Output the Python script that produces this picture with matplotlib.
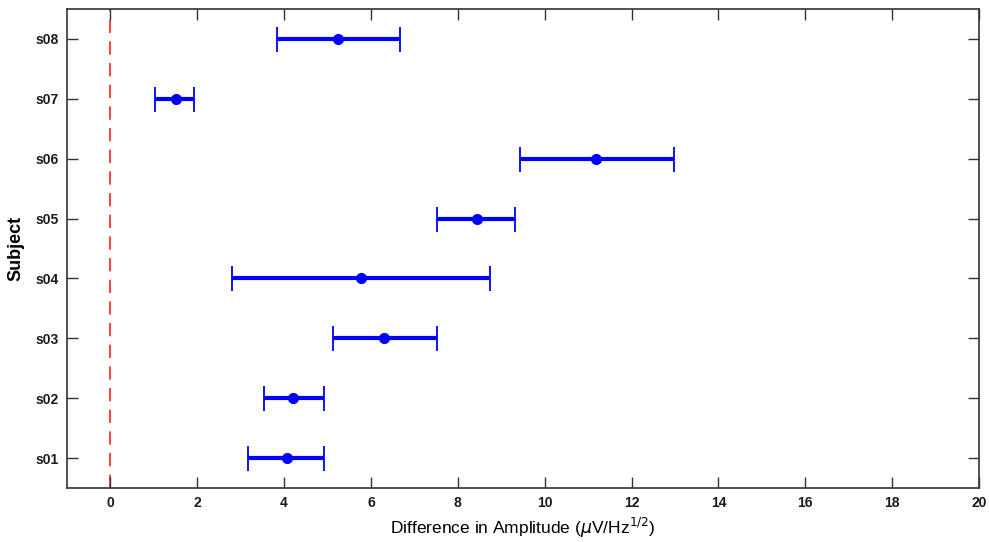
import numpy as np
import matplotlib
matplotlib.use("Agg")
import matplotlib.pyplot as plt

# per-subject amplitude difference: mean and interval bounds (uV/Hz^1/2)
subjects = ["s01", "s02", "s03", "s04", "s05", "s06", "s07", "s08"]
mean_diff = [4.06, 4.21, 6.30, 5.77, 8.43, 11.19, 1.50, 5.25]
ci_low    = [3.17, 3.53, 5.12, 2.79, 7.53, 9.42, 1.03, 3.83]
ci_high   = [4.91, 4.91, 7.51, 8.74, 9.32, 12.97, 1.93, 6.67]

plt.rcParams['font.family'] = ['Liberation Sans', 'DejaVu Sans']

mean_diff = np.array(mean_diff)
ypos = np.arange(1, len(subjects) + 1)
xerr = [mean_diff - np.array(ci_low), np.array(ci_high) - mean_diff]

fig = plt.figure(figsize=(9.89, 5.42), dpi=100)
ax = fig.add_axes([0.0677, 0.0996, 0.9222, 0.8838])

ax.axvline(0, color="#ff2020", lw=1.2, ls=(0, (8, 5)), zorder=1)
ax.errorbar(mean_diff, ypos, xerr=xerr, fmt="o", color="#0000ff",
            ms=7, elinewidth=3, capsize=9, capthick=1.3, zorder=3)

ax.set_xlim(-1, 20)
ax.set_ylim(0.5, 8.5)
ax.set_xticks(np.arange(0, 21, 2))
ax.set_yticks(ypos)
ax.set_yticklabels(subjects)
for lbl in ax.get_xticklabels() + ax.get_yticklabels():
    lbl.set_fontweight("bold")
    lbl.set_fontsize(10)
    lbl.set_color("#1a1a1a")
ax.tick_params(direction="in", length=8, width=1, top=True, right=True,
               color="#333333", pad=6)
for sp in ax.spines.values():
    sp.set_color("#333333")
    sp.set_linewidth(1.2)

ax.set_xlabel(r"Difference in Amplitude ($\mu$V/Hz$^{1/2}$)", fontsize=12.5, labelpad=4)
ax.set_ylabel("Subject", fontsize=13, fontweight="bold", labelpad=8)

fig.savefig("out.png", dpi=100)
